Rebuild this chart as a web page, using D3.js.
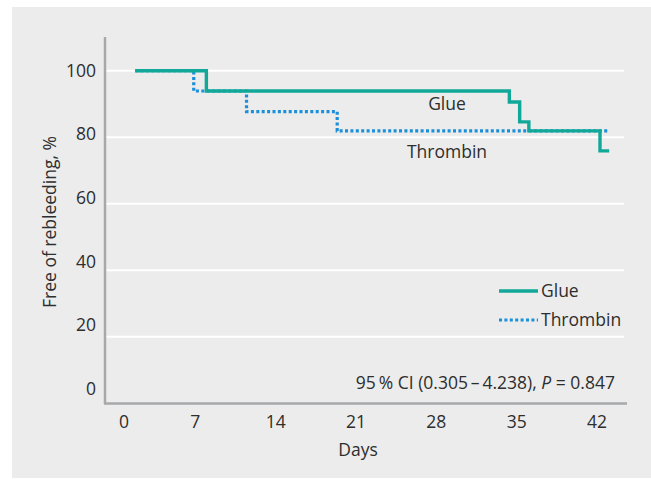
<!DOCTYPE html>
<html><head><meta charset="utf-8">
<script src="https://cdn.jsdelivr.net/npm/d3@7"></script>
<style>body{margin:0;background:#fff;} text{font-family:"Open Sans",sans-serif;fill:#2e2e2e;}</style>
</head><body><svg id="c" width="651" height="479"></svg>
<script>
const xTicks = [0, 7, 14, 21, 28, 35, 42];
const yTicks = [0, 20, 40, 60, 80, 100];
const glueDays   = [1.5, 7.7, 34.1, 35.0, 35.8, 42.0, 42.8];
const glueValues = [100, 93.9, 90.6, 84.6, 81.9, 75.9, 75.9];
const thrDays    = [1.5, 6.6, 11.2, 19.1, 42.8];
const thrValues  = [100, 93.9, 87.7, 81.9, 81.9];
const seriesNames = ["Glue", "Thrombin"];
const annotation = "95\u2009% CI (0.305\u2009\u2013\u20094.238), ";

const FS = 17.5;
const svg = d3.select("#c");
svg.append("rect").attr("x", 12).attr("y", 7).attr("width", 639).attr("height", 471).attr("fill", "#ebeceb");

const x = d3.scaleLinear().domain([0, 42]).range([118, 600]);
const y = d3.scaleLinear().domain([0, 100]).range([403.3, 70.7]);
const yLab = d3.scaleLinear().domain([0, 100]).range([389, 70.7]);

// grid
svg.append("g").selectAll("line").data(yTicks.filter(d => d > 0)).join("line")
  .attr("x1", 105).attr("x2", 624).attr("y1", d => y(d)).attr("y2", d => y(d))
  .attr("stroke", "#fff").attr("stroke-width", 2);

// axes lines
svg.append("line").attr("x1", 105).attr("x2", 105).attr("y1", 37).attr("y2", 404).attr("stroke", "#a7a8aa").attr("stroke-width", 2.5);
svg.append("line").attr("x1", 104).attr("x2", 627).attr("y1", 403.5).attr("y2", 403.5).attr("stroke", "#a7a8aa").attr("stroke-width", 2.5);

// tick labels
svg.append("g").selectAll("text").data(yTicks).join("text")
  .attr("x", 96).attr("y", d => yLab(d)).attr("dy", "0.35em").attr("text-anchor", "end")
  .attr("font-size", FS).text(d => d);
svg.append("g").selectAll("text").data(xTicks).join("text")
  .attr("x", d => d === 0 ? x(d) + 6 : x(d) - 3).attr("y", 422).attr("dy", "0.35em").attr("text-anchor", "middle")
  .attr("font-size", FS).text(d => d);

svg.append("text").attr("x", 358).attr("y", 450).attr("dy", "0.35em").attr("text-anchor", "middle").attr("font-size", FS).text("Days");
svg.append("text").attr("transform", "translate(50,222) rotate(-90)").attr("dy", "0.35em").attr("text-anchor", "middle").attr("font-size", FS).text("Free of rebleeding, %");

// curves
const line = d3.line().x(d => x(d[0])).y(d => y(d[1])).curve(d3.curveStepAfter);
const thr = thrDays.map((d, i) => [d, thrValues[i]]);
const glue = glueDays.map((d, i) => [d, glueValues[i]]);
svg.append("path").attr("d", line(thr)).attr("fill", "none").attr("stroke", "#1b8fd9").attr("stroke-width", 3.2).attr("stroke-dasharray", "3,2.4");
svg.append("path").attr("d", line(glue)).attr("fill", "none").attr("stroke", "#12a899").attr("stroke-width", 3.4);

// curve labels
svg.append("text").attr("x", 447).attr("y", 104).attr("dy", "0.35em").attr("text-anchor", "middle").attr("font-size", FS).text(seriesNames[0]);
svg.append("text").attr("x", 447).attr("y", 152).attr("dy", "0.35em").attr("text-anchor", "middle").attr("font-size", FS).text(seriesNames[1]);

// legend
svg.append("line").attr("x1", 499).attr("x2", 538).attr("y1", 291).attr("y2", 291).attr("stroke", "#12a899").attr("stroke-width", 3.4);
svg.append("line").attr("x1", 499).attr("x2", 538).attr("y1", 320).attr("y2", 320).attr("stroke", "#1b8fd9").attr("stroke-width", 3.2).attr("stroke-dasharray", "3,2.4");
svg.append("text").attr("x", 541).attr("y", 291).attr("dy", "0.35em").attr("font-size", FS).text(seriesNames[0]);
svg.append("text").attr("x", 541).attr("y", 320).attr("dy", "0.35em").attr("font-size", FS).text(seriesNames[1]);

// annotation
const t = svg.append("text").attr("x", 615).attr("y", 383).attr("dy", "0.35em").attr("text-anchor", "end").attr("font-size", FS);
t.append("tspan").text(annotation);
t.append("tspan").attr("font-style", "italic").text("P");
t.append("tspan").text(" = 0.847");
</script></body></html>
